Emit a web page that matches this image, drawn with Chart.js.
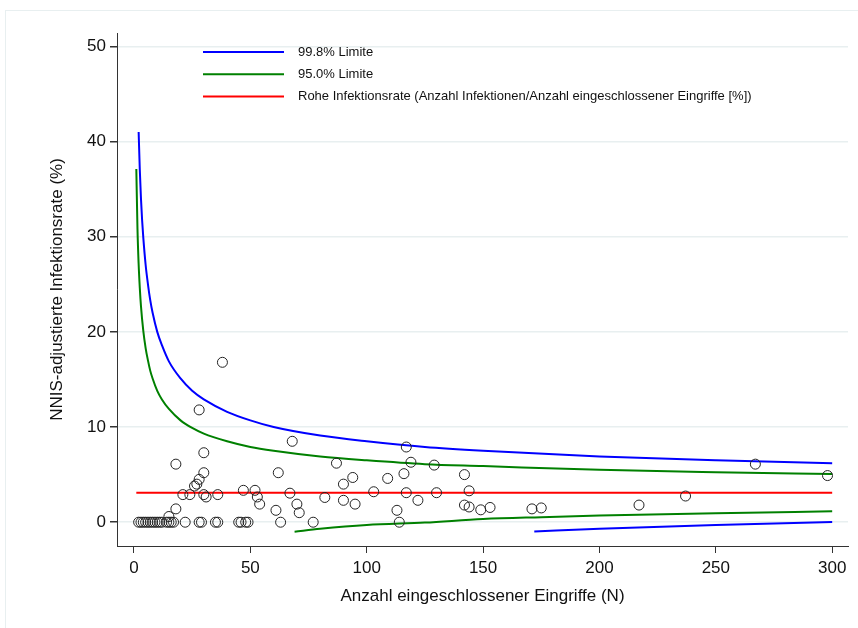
<!DOCTYPE html>
<html>
<head>
<meta charset="utf-8">
<script src="https://cdn.jsdelivr.net/npm/chart.js@4"></script>
<style>
  body { margin: 0; background: #fff; overflow: hidden; }
  #wrap { position: relative; width: 858px; height: 628px; }
  #frame { position: absolute; left: 5px; top: 10px; width: 900px; height: 700px; border: 1px solid #e8eff0; }
  canvas { position: absolute; left: 0; top: 0; }
</style>
</head>
<body>
<div id="wrap">
  <div id="frame"></div>
  <canvas id="chart" width="858" height="628"></canvas>
</div>
<script>
// Anzahl Eingriffe (N) und NNIS-adjustierte Infektionsrate (%) je Einheit
const eingriffe = [2, 3, 4, 5, 6, 7, 8, 9, 10, 11, 12, 14, 15, 16, 17,
  22, 28, 29, 35, 36, 45, 46, 48, 49, 63, 77, 114,
  18, 30, 28, 38, 30, 28, 27, 26, 21, 24, 30, 31, 36, 18, 15,
  47, 52, 53, 54, 62, 61, 68, 67, 70, 71, 82, 87, 90, 90, 94, 95,
  103, 109, 113, 117, 119, 129, 116, 117, 122, 130, 142, 144, 142, 144,
  149, 153, 171, 175, 217, 237, 267, 298];
const rate = [0, 0, 0, 0, 0, 0, 0, 0, 0, 0, 0, 0, 0, 0, 0,
  0, 0, 0, 0, 0, 0, 0, 0, 0, 0, 0, 0,
  6.1, 7.3, 11.8, 16.8, 5.2, 4.5, 4.0, 3.8, 2.9, 2.9, 2.9, 2.65, 2.9, 1.4, 0.6,
  3.35, 3.35, 2.65, 1.9, 5.2, 1.25, 8.5, 3.05, 1.9, 1.0, 2.6, 6.2, 4.0, 2.3, 4.7, 1.9,
  3.2, 4.6, 1.25, 7.9, 6.3, 6.0, 5.1, 3.1, 2.3, 3.1, 5.0, 3.3, 1.8, 1.6,
  1.3, 1.55, 1.4, 1.5, 1.8, 2.75, 6.1, 4.9];

// Kontrollgrenzen
const nOben998 = [2, 2.5, 3, 3.5, 4, 5, 6, 7, 8, 10, 12, 15, 20, 25, 30, 40, 50, 60, 80, 100, 125, 150, 200, 250, 300];
const oben998 = [41.0, 37.0, 34.0, 31.7, 29.9, 27.05, 25.0, 23.3, 22.0, 20.0, 18.6, 16.9, 15.1, 13.8, 12.9, 11.6, 10.7, 10.0, 9.1, 8.5, 7.9, 7.5, 6.9, 6.5, 6.2];
const nOben950 = [1, 1.5, 2, 2.5, 3, 4, 5, 6, 7, 8, 10, 12, 15, 20, 25, 30, 40, 50, 60, 80, 100, 125, 150, 200, 250, 300];
const oben950 = [37.1, 30.8, 27.1, 24.6, 22.7, 20.1, 18.3, 17.0, 15.9, 15.1, 13.8, 12.9, 11.9, 10.7, 9.9, 9.3, 8.5, 7.9, 7.5, 6.9, 6.5, 6.1, 5.9, 5.5, 5.25, 5.06];
const nUnten950 = [69, 80, 100, 125, 150, 175, 200, 250, 300];
const unten950 = [-1.0, -0.7, -0.3, -0.04, 0.33, 0.53, 0.7, 0.95, 1.14];
const nUnten998 = [172, 200, 250, 300];
const unten998 = [-0.98, -0.69, -0.29, 0.01];
const nRoh = [1, 300];
const rohRate = [3.1, 3.1];

const xTicks = [0, 50, 100, 150, 200, 250, 300];
const yTicks = [0, 10, 20, 30, 40, 50];

const toXY = (xs, ys) => xs.map((x, i) => ({ x: x, y: ys[i] }));
const FONT = '"Liberation Sans", Arial, sans-serif';

const limitLine = (label, xs, ys, color, inLegend) => ({
    type: "line",
    label: label,
    data: toXY(xs, ys),
    borderColor: color,
    borderWidth: 2,
    pointRadius: 0,
    fill: false,
    cubicInterpolationMode: "monotone",
    inLegend: inLegend
});

const insideLegend = {
    id: "insideLegend",
    afterDraw(chart) {
        const ctx = chart.ctx;
        const items = chart.data.datasets.filter(d => d.inLegend);
        ctx.save();
        items.forEach((d, i) => {
            const y = 52 + i * 22.2;
            ctx.strokeStyle = d.borderColor;
            ctx.lineWidth = 2;
            ctx.beginPath();
            ctx.moveTo(203, y);
            ctx.lineTo(284, y);
            ctx.stroke();
            ctx.fillStyle = "#111";
            ctx.font = "13px " + FONT;
            ctx.textBaseline = "middle";
            ctx.fillText(d.label, 298, y);
        });
        ctx.restore();
    }
};

const ctx = document.getElementById("chart").getContext("2d");
new Chart(ctx, {
    type: "scatter",
    data: {
        datasets: [
            {
                label: "Einheiten",
                data: toXY(eingriffe, rate),
                pointRadius: 5,
                pointBorderWidth: 1,
                pointBorderColor: "#222",
                pointBackgroundColor: "rgba(0,0,0,0)"
            },
            limitLine("99.8% Limite", nOben998, oben998, "#0000ff", true),
            limitLine("99.8% Limite unten", nUnten998, unten998, "#0000ff", false),
            limitLine("95.0% Limite", nOben950, oben950, "#008000", true),
            limitLine("95.0% Limite unten", nUnten950, unten950, "#008000", false),
            limitLine("Rohe Infektionsrate (Anzahl Infektionen/Anzahl eingeschlossener Eingriffe [%])", nRoh, rohRate, "#ff0000", true)
        ]
    },
    options: {
        responsive: false,
        animation: false,
        layout: { padding: { top: 33, right: 10, left: 0, bottom: 0 } },
        plugins: { legend: { display: false }, tooltip: { enabled: false } },
        scales: {
            x: {
                type: "linear",
                min: -7.3,
                max: 306.8,
                afterBuildTicks: s => { s.ticks = xTicks.map(v => ({ value: v })); },
                afterFit: s => { s.height = 82; },
                grid: { drawOnChartArea: false, tickLength: 7, tickColor: "#333" },
                border: { color: "#333", width: 1 },
                ticks: { font: { size: 17, family: FONT }, color: "#111", padding: 5, maxRotation: 0 },
                title: {
                    display: true,
                    text: "Anzahl eingeschlossener Eingriffe (N)",
                    font: { size: 17, family: FONT },
                    color: "#111",
                    padding: { top: 0, bottom: 21 }
                }
            },
            y: {
                type: "linear",
                min: -2.5,
                max: 51.4,
                afterBuildTicks: s => { s.ticks = yTicks.map(v => ({ value: v })); },
                afterFit: s => { s.width = 117; },
                grid: { color: "#e8eff0", lineWidth: 1.5, tickLength: 7, tickColor: "#333" },
                border: { color: "#333", width: 1 },
                ticks: { font: { size: 17, family: FONT }, color: "#111", padding: 4 },
                title: {
                    display: true,
                    text: "NNIS-adjustierte Infektionsrate (%)",
                    font: { size: 17, family: FONT },
                    color: "#111",
                    padding: { top: 47, bottom: 0 }
                }
            }
        }
    },
    plugins: [insideLegend]
});
</script>
</body>
</html>
